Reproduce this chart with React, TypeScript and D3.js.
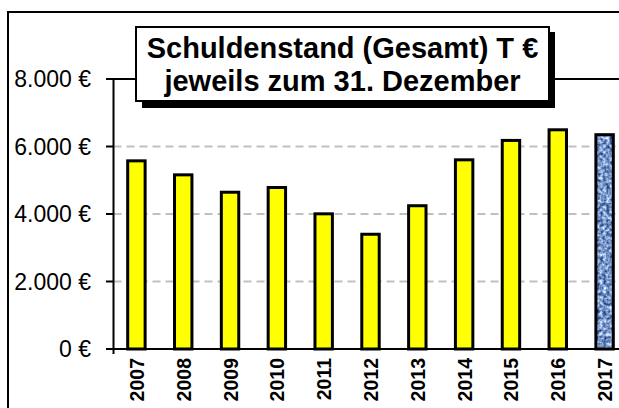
import React from "react";
import * as d3 from "d3";

const years = ["2007", "2008", "2009", "2010", "2011", "2012", "2013", "2014", "2015", "2016", "2017"];
const schulden = [5575, 5160, 4645, 4785, 4005, 3400, 4245, 5605, 6180, 6495, 6350];
const yTicks = [0, 2000, 4000, 6000, 8000];
const titleLines = ["Schuldenstand (Gesamt) T €", "jeweils zum 31. Dezember"];
const highlightYear = "2017";

const W = 619;
const H = 408;
const FONT = "'Liberation Sans', Arial, sans-serif";

const fmtEuro = (v: number) => d3.format(",")(v).replace(/,/g, ".") + " €";

export default function App() {
  const x = d3
    .scaleBand<string>()
    .domain(years)
    .range([113, 628])
    .paddingInner(0.628)
    .paddingOuter(0.314);

  const y = d3.scaleLinear().domain([0, 8000]).range([349, 79]);

  const axisX = 113.5;

  return (
    <svg
      width={W}
      height={H}
      style={{ position: "absolute", left: 0, top: 0, display: "block", background: "#fff" }}
      fontFamily={FONT}
    >
      <defs>
        <filter id="tissue" x="0" y="0" width="1" height="1" colorInterpolationFilters="sRGB">
          <feTurbulence type="fractalNoise" baseFrequency="0.3" numOctaves={2} seed={4} />
          <feColorMatrix
            type="matrix"
            values="1.35 0 0 0 -0.2  1.25 0 0 0 -0.04  1.0 0 0 0 0.28  0 0 0 0 1"
          />
        </filter>
      </defs>

      {/* outer chart border */}
      <rect x={8} y={12} width={W + 20} height={H + 20} fill="#fff" stroke="#000" strokeWidth={2} />

      {/* gridlines */}
      {yTicks
        .filter(t => t > 0 && t < 8000)
        .map(t => (
          <line
            key={t}
            x1={axisX}
            x2={W}
            y1={y(t)}
            y2={y(t)}
            stroke="#c0c0c0"
            strokeWidth={2}
            strokeDasharray="8,5"
          />
        ))}

      {/* bars */}
      {years.map((yr, i) => {
        const bx = x(yr)!;
        const bw = x.bandwidth();
        const top = y(schulden[i]);
        const h = y(0) - top;
        if (yr === highlightYear) {
          return (
            <g key={yr}>
              <rect x={bx} y={top} width={bw} height={h} fill="#7f9fd8" filter="url(#tissue)" />
              <rect x={bx} y={top} width={bw} height={h} fill="none" stroke="#000" strokeWidth={3} />
            </g>
          );
        }
        return (
          <rect key={yr} x={bx} y={top} width={bw} height={h} fill="#ffff00" stroke="#000" strokeWidth={3} />
        );
      })}

      {/* axes */}
      <line x1={axisX} x2={W} y1={y(0)} y2={y(0)} stroke="#000" strokeWidth={2} />
      <line x1={axisX} x2={axisX} y1={y(8000) - 1} y2={y(0) + 5} stroke="#000" strokeWidth={2} />
      <line x1={axisX} x2={W} y1={y(8000)} y2={y(8000)} stroke="#000" strokeWidth={2} />
      {yTicks.map(t => (
        <g key={t}>
          <line x1={106} x2={axisX} y1={y(t)} y2={y(t)} stroke="#000" strokeWidth={2} />
          <text x={91} y={y(t) + 8.3} textAnchor="end" fontSize={23} fill="#000">
            {fmtEuro(t)}
          </text>
        </g>
      ))}

      {/* category labels */}
      {years.map(yr => {
        const cx = x(yr)! + x.bandwidth() / 2 + 7.5;
        const ty = 358;
        return (
          <text
            key={yr}
            transform={`translate(${cx},${ty}) rotate(-90)`}
            textAnchor="end"
            fontSize={19.5}
            fontWeight="bold"
            fill="#000"
          >
            {yr}
          </text>
        );
      })}

      {/* title box */}
      <rect x={142} y={32} width={413} height={76} fill="#000" />
      <rect x={136} y={27} width={413} height={74} fill="#fff" stroke="#000" strokeWidth={2} />
      {titleLines.map((line, i) => (
        <text
          key={i}
          x={342.5}
          y={57.5 + i * 33.5}
          textAnchor="middle"
          fontSize={29}
          fontWeight="bold"
          fill="#000"
        >
          {line}
        </text>
      ))}
    </svg>
  );
}
